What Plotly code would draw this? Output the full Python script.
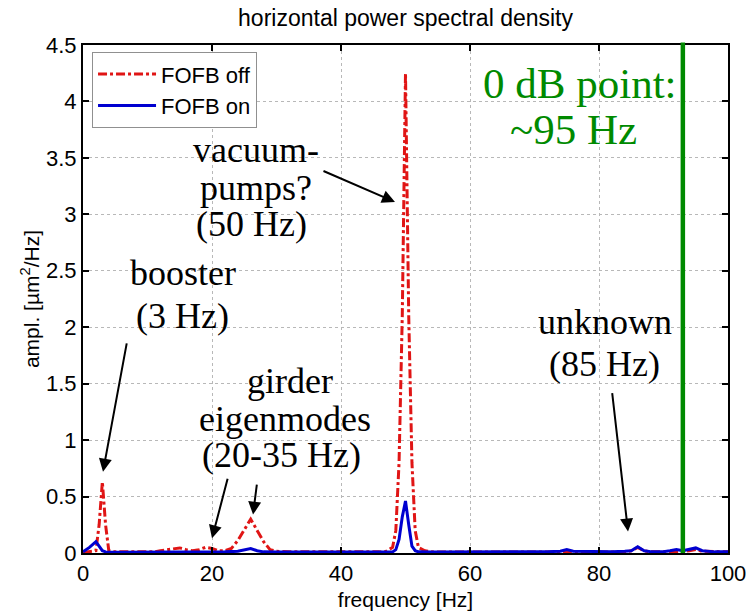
import plotly.graph_objects as go

# ---------------- data ----------------
freq_off = [0, 1, 2, 2.5, 3, 3.5, 4, 5, 6, 8, 10, 11, 12, 13, 14, 15, 16, 17, 18, 19, 20,
            21, 22, 23, 24, 25, 26, 27, 28, 29, 30, 32, 34, 36, 38, 40, 42, 44, 46, 47, 48,
            48.5, 49, 49.5, 50, 50.5, 51, 51.5, 52, 53, 54, 56, 58, 60, 62, 64, 66, 68, 70,
            72, 74, 75, 76, 78, 80, 82, 84, 85, 86, 87, 88, 90, 92, 94, 95, 96, 98, 100]
psd_off = [0.005, 0.01, 0.02, 0.25, 0.63, 0.25, 0.02, 0.01, 0.01, 0.01, 0.01, 0.01, 0.02, 0.03,
           0.04, 0.045, 0.03, 0.02, 0.03, 0.05, 0.04, 0.02, 0.02, 0.04, 0.11, 0.21, 0.30, 0.2,
           0.1, 0.03, 0.015, 0.01, 0.01, 0.008, 0.008, 0.01, 0.008, 0.008, 0.01, 0.015, 0.05,
           0.2, 0.8, 2.1, 4.25, 2.1, 0.8, 0.2, 0.05, 0.02, 0.01, 0.008, 0.008, 0.008, 0.008,
           0.008, 0.008, 0.008, 0.01, 0.008, 0.01, 0.015, 0.01, 0.008, 0.01, 0.01, 0.01, 0.02,
           0.05, 0.02, 0.01, 0.01, 0.01, 0.02, 0.03, 0.015, 0.01, 0.01]

freq_on = [0, 1, 2, 2.5, 3, 3.5, 4, 6, 8, 10, 12, 14, 16, 18, 20, 22, 24, 25, 26, 27, 28, 30,
           34, 38, 42, 46, 48, 48.5, 49, 49.5, 50, 50.5, 51, 51.5, 52, 54, 58, 62, 66, 70, 72,
           74, 75, 76, 78, 80, 82, 84, 85, 86, 87, 88, 90, 91, 92, 93, 94, 95, 96, 97, 98, 100]
psd_on = [0.01, 0.05, 0.10, 0.06, 0.02, 0.01, 0.006, 0.006, 0.006, 0.008, 0.01, 0.01, 0.01,
          0.01, 0.012, 0.01, 0.015, 0.03, 0.04, 0.02, 0.01, 0.008, 0.008, 0.008, 0.008, 0.008,
          0.01, 0.03, 0.12, 0.32, 0.46, 0.25, 0.06, 0.02, 0.01, 0.008, 0.008, 0.01, 0.01, 0.012,
          0.012, 0.015, 0.03, 0.015, 0.012, 0.012, 0.012, 0.015, 0.02, 0.055, 0.02, 0.012,
          0.012, 0.02, 0.03, 0.02, 0.03, 0.045, 0.02, 0.015, 0.01, 0.01]

series_names = ["FOFB off", "FOFB on"]
x_ticks = [0, 20, 40, 60, 80, 100]
x_ticklabels = ["0", "20", "40", "60", "80", "100"]
y_ticks = [0, 0.5, 1, 1.5, 2, 2.5, 3, 3.5, 4, 4.5]
y_ticklabels = ["0", "0.5", "1", "1.5", "2", "2.5", "3", "3.5", "4", "4.5"]
crossover_freq = 93

title_text = "horizontal power spectral density"
x_title = "frequency [Hz]"
y_title = "ampl. [µm<sup>2</sup>/Hz]"

# ---------------- figure ----------------
SANS = "Liberation Sans, Arial, sans-serif"
SERIF = "Liberation Serif, Times New Roman, serif"

fig = go.Figure()
fig.add_trace(go.Scatter(x=freq_off, y=psd_off, mode="lines", name=series_names[0],
                         line=dict(color="#e01515", width=3, dash="dashdot")))
fig.add_trace(go.Scatter(x=freq_on, y=psd_on, mode="lines", name=series_names[1],
                         line=dict(color="#0000d0", width=3)))

fig.add_shape(type="line", xref="x", yref="paper", x0=crossover_freq, x1=crossover_freq,
              y0=0, y1=1.005, line=dict(color="#008a00", width=4.5), layer="above")

axis_common = dict(
    showline=True, linecolor="black", linewidth=2, mirror="allticks",
    ticks="inside", ticklen=6, tickwidth=2, tickcolor="black",
    showgrid=True, gridcolor="#b8b8b8", gridwidth=1, griddash="dot",
    zeroline=False, tickfont=dict(family=SANS, size=22, color="black"),
    automargin=False,
)
fig.update_xaxes(range=[0, 100], tickmode="array", tickvals=x_ticks, ticktext=x_ticklabels,
                 title=dict(text=x_title, font=dict(family=SANS, size=21, color="black"),
                            standoff=7), **axis_common)
fig.update_yaxes(range=[0, 4.5], tickmode="array", tickvals=y_ticks, ticktext=y_ticklabels,
                 title=dict(text=y_title, font=dict(family=SANS, size=21, color="black"),
                            standoff=1), **axis_common)

# text annotations (one per line)
texts = [
    ("vacuum-", 26.8, 3.57), ("pumps?", 26.8, 3.23), ("(50 Hz)", 26.2, 2.91),
    ("booster", 15.5, 2.48), ("(3 Hz)", 15.5, 2.10),
    ("girder", 32.1, 1.52), ("eigenmodes", 31.3, 1.19), ("(20-35 Hz)", 30.7, 0.87),
    ("unknown", 80.9, 2.05), ("(85 Hz)", 80.9, 1.67),
]
for t, x, y in texts:
    fig.add_annotation(x=x, y=y, xref="x", yref="y", text=t, showarrow=False,
                       font=dict(family=SERIF, size=36, color="black"),
                       xanchor="center", yanchor="middle")
for t, x, y in [("0 dB point:", 77.0, 4.16), ("~95 Hz", 76.0, 3.75)]:
    fig.add_annotation(x=x, y=y, xref="x", yref="y", text=t, showarrow=False,
                       font=dict(family=SERIF, size=43, color="#008a00"),
                       xanchor="center", yanchor="middle")

# arrows (head -> tail)
arrows = [
    (3.10, 0.72, 6.82, 1.87),
    (20.0, 0.13, 22.48, 0.67),
    (26.36, 0.34, 26.98, 0.62),
    (48.37, 3.11, 37.05, 3.39),
    (84.5, 0.19, 82.02, 1.43),
]
for hx, hy, tx, ty in arrows:
    fig.add_annotation(x=hx, y=hy, ax=tx, ay=ty, xref="x", yref="y", axref="x", ayref="y",
                       text="", showarrow=True, arrowhead=2, arrowsize=1.3, arrowwidth=2,
                       arrowcolor="black", standoff=0, startstandoff=0)

fig.update_layout(
    width=751, height=611,
    margin=dict(l=83, r=23, t=45, b=58),
    paper_bgcolor="white", plot_bgcolor="white",
    title=dict(text=title_text, x=0.54, xanchor="center", y=1 - 18 / 611, yanchor="middle",
               font=dict(family=SANS, size=23, color="black")),
    legend=dict(x=0.014, y=0.986, xanchor="left", yanchor="top",
                bgcolor="white", bordercolor="#909090", borderwidth=1,
                font=dict(family=SANS, size=22, color="black"),
                traceorder="normal", itemwidth=58, tracegroupgap=0),
    showlegend=True,
)

fig.write_html("out.html")
